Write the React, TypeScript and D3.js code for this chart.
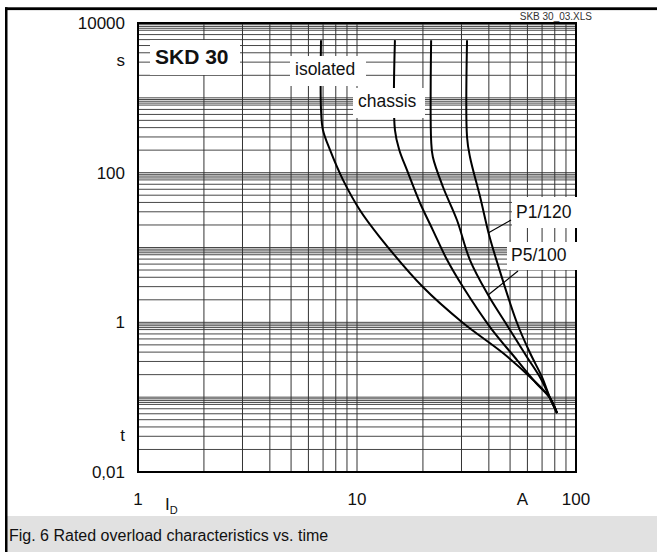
import React, { useEffect, useRef } from 'react';
import * as d3 from 'd3';

// Curve data (current in A, time in s)
const isolatedI = [6.85, 6.85, 6.99, 7.53, 8.63, 10.3, 12.7, 20.0, 30.5, 46.4, 61.7, 76.1, 81.9];
const isolatedT = [5900, 690, 372, 201, 80, 31.7, 13.8, 2.96, 0.98, 0.389, 0.186, 0.0975, 0.0614];

const chassisI = [14.9, 14.9, 15.6, 16.9, 19.4, 22.2, 25.8, 30.5, 40.5, 53.8, 65.7, 76.1, 81.9];
const chassisT = [5900, 372, 201, 108.6, 39.3, 17.1, 6.8, 2.96, 0.865, 0.313, 0.1545, 0.0975, 0.0614];

const p5I = [21.8, 21.8, 22.2, 24.7, 28.6, 32.8, 39.7, 47.4, 59.7, 69.2, 76.1, 81.9];
const p5T = [5900, 273, 162, 64.3, 23.3, 6.8, 2.32, 1.01, 0.344, 0.175, 0.0975, 0.0614];

const p1I = [31.8, 31.8, 32.8, 36.5, 40.1, 43.6, 53.8, 61.7, 69.9, 76.1, 81.9];
const p1T = [5900, 300, 162, 47.3, 14.7, 6.4, 0.98, 0.389, 0.186, 0.0975, 0.0614];

// Axis ticks
const xGridDecades = [1, 10];
const xGridSteps = [1, 2, 3, 4, 5, 6, 7, 8, 9];
const yGridDecades = [0.01, 0.1, 1, 10, 100, 1000];
const yGridSteps = [1, 2, 3, 4, 5, 6, 7, 8, 8.5, 9, 9.5];

const yTickValues = [10000, 3162, 100, 1, 0.0316, 0.01];
const yTickLabels = ['10000', 's', '100', '1', 't', '0,01'];
const xTickValues = [1, 10, 57, 100];
const xTickLabels = ['1', '10', 'A', '100'];

const FONT = '"Liberation Sans", Arial, sans-serif';

const OverloadChart: React.FC = () => {
    const chartRef = useRef<SVGSVGElement>(null);

    useEffect(() => {
        if (!chartRef.current) return;

        const svg = d3.select(chartRef.current);
        svg.selectAll('*').remove();

        const left = 138, right = 576, top = 23, bottom = 472;

        const x = d3.scaleLog().domain([1, 100]).range([left, right]);
        const y = d3.scaleLog().domain([0.01, 10000]).range([bottom, top]);

        // Outer frame and caption band
        svg.append('rect').attr('width', 657).attr('height', 552).attr('fill', 'white');
        svg.append('rect').attr('x', 7).attr('y', 516).attr('width', 650).attr('height', 36).attr('fill', '#e1e1e1');
        svg.append('rect').attr('x', 5).attr('y', 7.3).attr('width', 652).attr('height', 2.8).attr('fill', 'black');
        svg.append('rect').attr('x', 5).attr('y', 7.3).attr('width', 2.5).attr('height', 545).attr('fill', 'black');

        svg.append('text')
            .attr('x', 9)
            .attr('y', 541)
            .attr('font-family', FONT)
            .attr('font-size', '16px')
            .attr('fill', '#111')
            .text('Fig. 6 Rated overload characteristics vs. time');

        // Grid
        const xGrid = xGridDecades.flatMap(d => xGridSteps.map(s => d * s)).concat([100]);
        const yGrid = yGridDecades.flatMap(d => yGridSteps.map(s => d * s)).concat([10000]);

        svg.selectAll('line.vgrid')
            .data(xGrid)
            .enter()
            .append('line')
            .attr('class', 'vgrid')
            .attr('x1', d => x(d))
            .attr('x2', d => x(d))
            .attr('y1', top)
            .attr('y2', bottom)
            .attr('stroke', '#333')
            .attr('stroke-width', 1);

        svg.selectAll('line.hgrid')
            .data(yGrid)
            .enter()
            .append('line')
            .attr('class', 'hgrid')
            .attr('x1', left)
            .attr('x2', right)
            .attr('y1', d => y(d))
            .attr('y2', d => y(d))
            .attr('stroke', '#333')
            .attr('stroke-width', 0.9);

        svg.append('rect')
            .attr('x', left)
            .attr('y', top)
            .attr('width', right - left)
            .attr('height', bottom - top)
            .attr('fill', 'none')
            .attr('stroke', 'black')
            .attr('stroke-width', 2);

        // Curves
        const line = d3.line<[number, number]>()
            .x(d => x(d[0]))
            .y(d => y(d[1]))
            .curve(d3.curveCatmullRom.alpha(0.5));

        [[isolatedI, isolatedT], [chassisI, chassisT], [p5I, p5T], [p1I, p1T]].forEach(([is, ts]) => {
            svg.append('path')
                .datum(is.map((v, i) => [v, ts[i]] as [number, number]))
                .attr('d', line)
                .attr('fill', 'none')
                .attr('stroke', 'black')
                .attr('stroke-width', 2);
        });

        // Label boxes (they hide the grid and curves behind them)
        const boxes = [
            { x: 150, y: 40, w: 90, h: 35, text: 'SKD 30', tx: 155, ty: 64, bold: true },
            { x: 290, y: 56, w: 76, h: 30, text: 'isolated', tx: 295, ty: 75, bold: false },
            { x: 353, y: 88, w: 72, h: 30, text: 'chassis', tx: 358, ty: 107, bold: false },
            { x: 512, y: 197, w: 67, h: 31, text: 'P1/120', tx: 516, ty: 218, bold: false },
            { x: 507, y: 242, w: 72, h: 28, text: 'P5/100', tx: 511, ty: 261, bold: false },
        ];

        boxes.forEach(b => {
            svg.append('rect')
                .attr('x', b.x)
                .attr('y', b.y)
                .attr('width', b.w)
                .attr('height', b.h)
                .attr('fill', 'white');
            svg.append('text')
                .attr('x', b.tx)
                .attr('y', b.ty)
                .attr('font-family', FONT)
                .attr('font-size', b.bold ? '21px' : '17.5px')
                .attr('font-weight', b.bold ? 'bold' : 'normal')
                .attr('fill', '#111')
                .text(b.text);
        });

        // Pointer lines from the heatsink labels
        svg.append('line')
            .attr('x1', 511).attr('y1', 220)
            .attr('x2', x(39.7)).attr('y2', y(15.6))
            .attr('stroke', 'black').attr('stroke-width', 1.2);
        svg.append('line')
            .attr('x1', 518).attr('y1', 271)
            .attr('x2', x(39.7)).attr('y2', y(2.32))
            .attr('stroke', 'black').attr('stroke-width', 1.2);

        // Axis labels
        svg.selectAll('text.y-label')
            .data(yTickValues)
            .enter()
            .append('text')
            .attr('class', 'y-label')
            .attr('x', 125)
            .attr('y', d => y(d) + 6)
            .attr('text-anchor', 'end')
            .attr('font-family', FONT)
            .attr('font-size', '17px')
            .attr('fill', '#111')
            .text((d, i) => yTickLabels[i]);

        svg.selectAll('text.x-label')
            .data(xTickValues)
            .enter()
            .append('text')
            .attr('class', 'x-label')
            .attr('x', d => x(d))
            .attr('y', 505)
            .attr('text-anchor', 'middle')
            .attr('font-family', FONT)
            .attr('font-size', '17px')
            .attr('fill', '#111')
            .text((d, i) => xTickLabels[i]);

        const id = svg.append('text')
            .attr('x', 165)
            .attr('y', 510)
            .attr('font-family', FONT)
            .attr('font-size', '17px')
            .attr('fill', '#111');
        id.append('tspan').text('I');
        id.append('tspan').attr('font-size', '11px').attr('dy', 4).text('D');

        svg.append('text')
            .attr('x', 592)
            .attr('y', 20)
            .attr('text-anchor', 'end')
            .attr('font-family', FONT)
            .attr('font-size', '10px')
            .attr('fill', '#333')
            .text('SKB 30_03.XLS');
    }, []);

    return (
        <div style={{ position: 'absolute', left: 0, top: 0 }}>
            <svg ref={chartRef} width={657} height={552} style={{ display: 'block' }}></svg>
        </div>
    );
};

export default function App() {
    return <OverloadChart />;
}
